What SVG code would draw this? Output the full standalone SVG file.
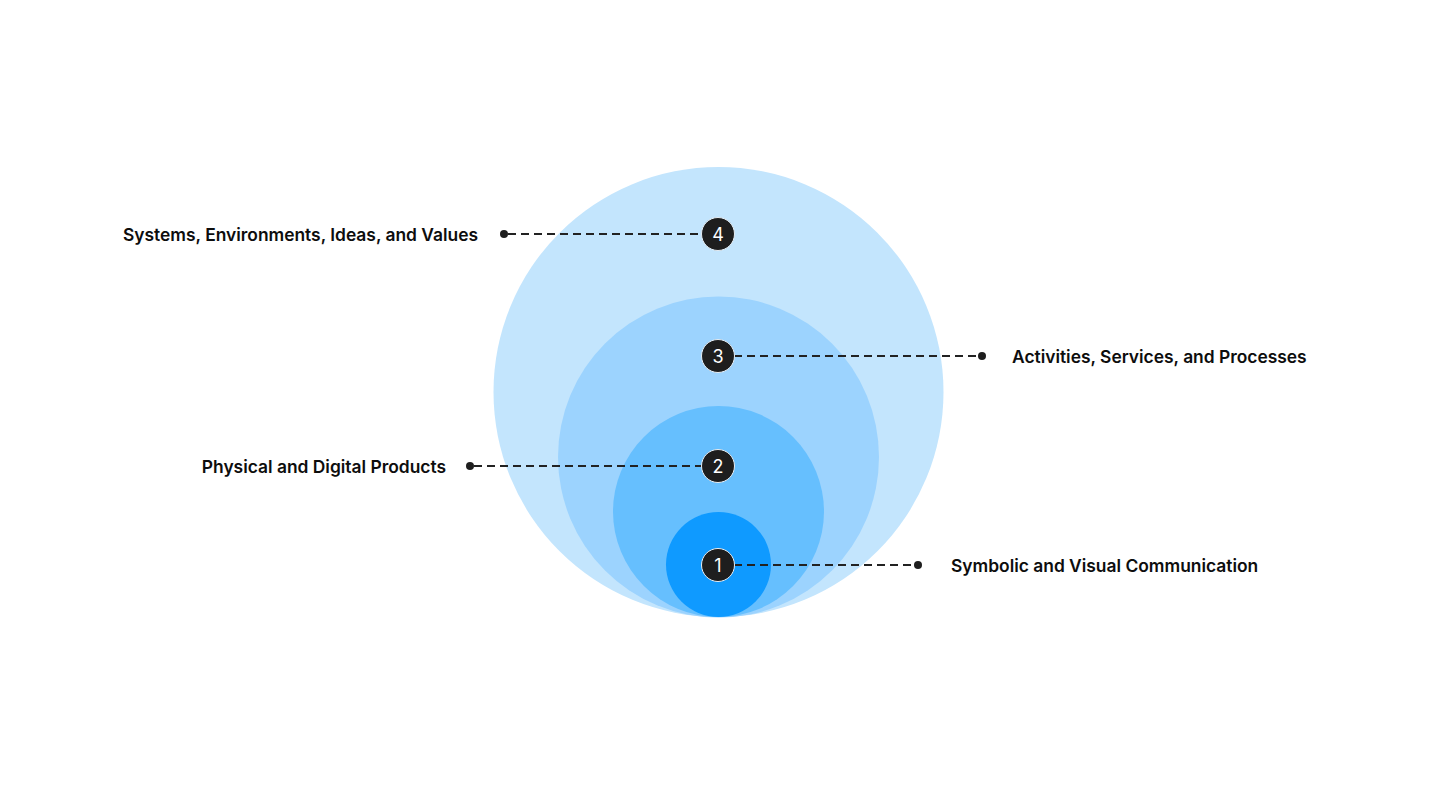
<svg xmlns="http://www.w3.org/2000/svg" width="1456" height="785" viewBox="0 0 1456 785">
<style>
.lbl{font-family:Inter,"Noto Sans",sans-serif;font-weight:600;font-size:17.4px;fill:#0d0d0d}
.num{font-family:Inter,"Noto Sans",sans-serif;font-weight:400;font-size:18px;fill:#fff;text-anchor:middle}
.badge{fill:#1e1e1e;stroke:#e6eef5;stroke-width:1}
.dash{stroke:#222;stroke-width:1.8;stroke-dasharray:8 5;fill:none}
.dot{fill:#1e1e1e}
</style>
<rect width="1456" height="785" fill="#fff"/>
<g id="rings">
<circle cx="718.5" cy="392" r="225" fill="#c3e5fd"/>
<circle cx="718.5" cy="457" r="160.5" fill="#9cd3fe"/>
<circle cx="718.5" cy="511.5" r="105.5" fill="#66bffe"/>
<circle cx="718.5" cy="564.5" r="52.5" fill="#0f9aff"/>
</g>
<g id="connectors">
<line class="dash" x1="508" y1="234" x2="702" y2="234"/>
<line class="dash" x1="734" y1="356" x2="978" y2="356"/>
<line class="dash" x1="474" y1="466" x2="702" y2="466"/>
<line class="dash" x1="734" y1="565" x2="914" y2="565"/>
<circle class="dot" cx="504" cy="234" r="4"/>
<circle class="dot" cx="982" cy="356" r="4"/>
<circle class="dot" cx="470" cy="466" r="4"/>
<circle class="dot" cx="918" cy="565" r="4"/>
</g>
<g id="node4">
<circle class="badge" cx="718" cy="234" r="16.5"/>
<text class="num" x="718" y="240.5">4</text>
<text class="lbl" x="478" y="241" text-anchor="end">Systems, Environments, Ideas, and Values</text>
</g>
<g id="node3">
<circle class="badge" cx="718" cy="356" r="16.5"/>
<text class="num" x="718" y="362.5">3</text>
<text class="lbl" x="1012" y="363">Activities, Services, and Processes</text>
</g>
<g id="node2">
<circle class="badge" cx="718" cy="466" r="16.5"/>
<text class="num" x="718" y="472.5">2</text>
<text class="lbl" x="446" y="473" text-anchor="end">Physical and Digital Products</text>
</g>
<g id="node1">
<circle class="badge" cx="718" cy="565" r="16.5"/>
<text class="num" x="718" y="571.5">1</text>
<text class="lbl" x="951" y="572">Symbolic and Visual Communication</text>
</g>
</svg>
